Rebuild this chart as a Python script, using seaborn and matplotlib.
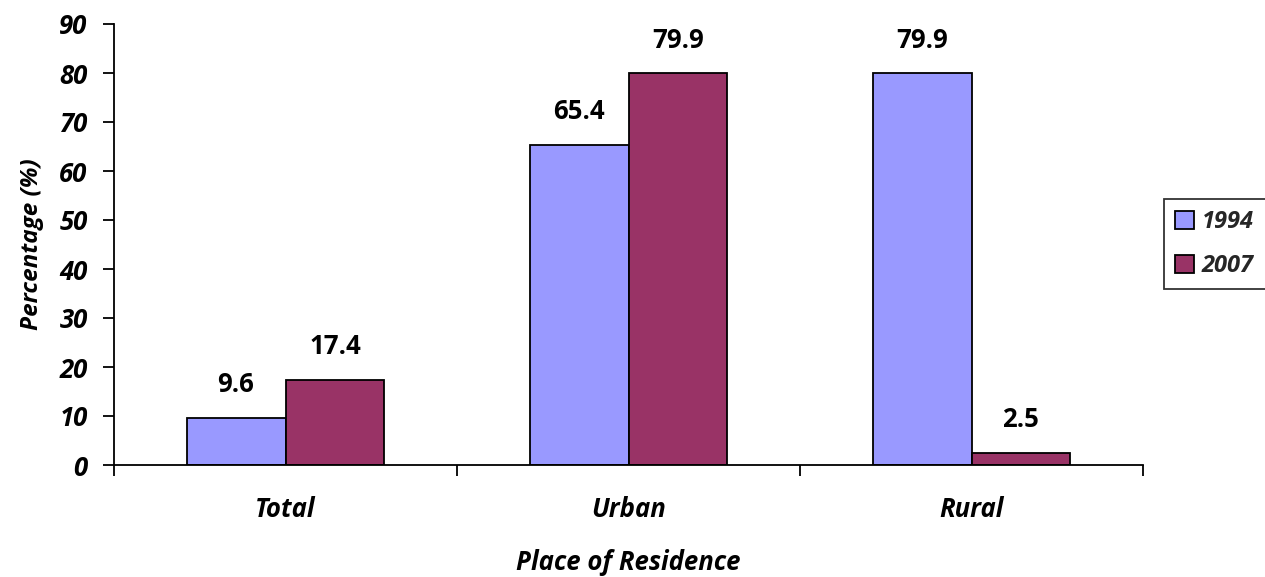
import matplotlib
matplotlib.use("Agg")
import matplotlib.pyplot as plt
import seaborn as sns
import pandas as pd
from matplotlib.ticker import MultipleLocator, FixedLocator

# Share of population by place of residence, two survey years
places = ["Total", "Urban", "Rural"]
years = ["1994", "2007"]
values_1994 = [9.6, 65.4, 79.9]
values_2007 = [17.4, 79.9, 2.5]

df = pd.DataFrame({
    "place": places * 2,
    "year": [years[0]] * 3 + [years[1]] * 3,
    "value": values_1994 + values_2007,
})

sns.set_theme(style="white")
plt.rcParams["font.family"] = ["Open Sans", "DejaVu Sans"]

FS = 18.5
W, H = 1265, 577

fig = plt.figure(figsize=(W / 100, H / 100), dpi=100)
ax = fig.add_axes([114 / W, 1 - 465 / H, (1143 - 114) / W, (465 - 24) / H])

palette = {"1994": "#9999FF", "2007": "#993366"}
sns.barplot(data=df, x="place", y="value", hue="year", hue_order=years,
            order=places, palette=palette, width=0.577, saturation=1,
            edgecolor="black", linewidth=1.3, ax=ax, legend=True)

ax.set_xlim(-0.5, 2.5)
ax.set_ylim(0, 90)
ax.yaxis.set_major_locator(MultipleLocator(10))

for s in ["top", "right"]:
    ax.spines[s].set_visible(False)
for s in ["left", "bottom"]:
    ax.spines[s].set_color("black")
    ax.spines[s].set_linewidth(1.3)

ax.tick_params(axis="y", which="major", direction="out", length=8, width=1.3,
               color="black", left=True, pad=11)
ax.tick_params(axis="x", which="major", length=0, pad=22)
ax.xaxis.set_minor_locator(FixedLocator([-0.5, 0.5, 1.5, 2.5]))
ax.tick_params(axis="x", which="minor", direction="out", length=8, width=1.3,
               color="black", bottom=True)

for lab in ax.get_yticklabels() + ax.get_xticklabels():
    lab.set_fontsize(FS)
    lab.set_fontweight("bold")
    lab.set_fontstyle("italic")
    lab.set_color("black")

ax.set_xlabel("Place of Residence", fontsize=FS, fontweight="bold",
              fontstyle="italic", color="black", labelpad=19)
ax.set_ylabel("Percentage (%)", fontsize=FS - 1, fontweight="bold",
              fontstyle="italic", color="black", labelpad=11)

# Value labels centred a fixed distance above each bar
for container in ax.containers:
    for bar in container:
        h = bar.get_height()
        ax.annotate(f"{h:.1f}", (bar.get_x() + bar.get_width() / 2, h),
                    xytext=(0, 24), textcoords="offset points",
                    ha="center", va="center", fontsize=FS, fontweight="bold",
                    color="black")

# Legend box runs off the right edge of the figure
leg = ax.legend(loc="center left",
                bbox_to_anchor=(1164 / W, 1 - 288 / H, 110 / W, 88 / H),
                bbox_transform=fig.transFigure, mode="expand",
                frameon=True, fancybox=False,
                edgecolor="black", handlelength=0.8, handleheight=0.8,
                handletextpad=0.35, borderpad=0.45, labelspacing=0.85,
                borderaxespad=0,
                prop={"size": FS - 1.5, "weight": "bold", "style": "italic"})
leg.get_frame().set_linewidth(1.3)
for h in leg.legend_handles:
    h.set_edgecolor("black")
    h.set_linewidth(1.3)

fig.savefig("out.png", dpi=100)
